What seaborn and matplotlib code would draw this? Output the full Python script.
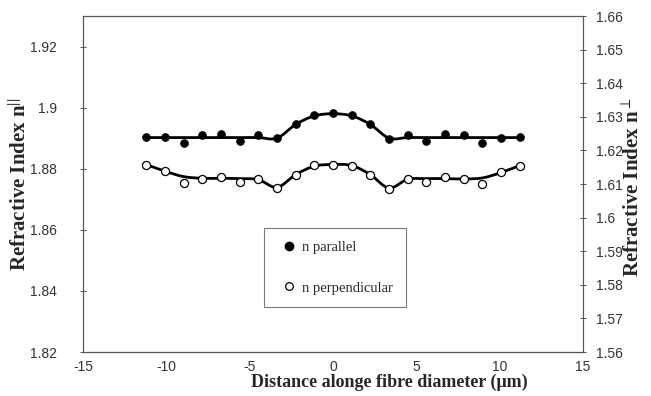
import numpy as np
import pandas as pd
import seaborn as sns
import matplotlib
matplotlib.use("Agg")
import matplotlib.pyplot as plt
from matplotlib.lines import Line2D
from matplotlib.path import Path
from matplotlib.patches import PathPatch

# ---------------- data ----------------
distance = [-11.2, -10.08, -8.96, -7.84, -6.72, -5.6, -4.48, -3.36, -2.24, -1.12, 0.0,
            1.12, 2.24, 3.36, 4.48, 5.6, 6.72, 7.84, 8.96, 10.08, 11.2]
n_parallel = [1.8903, 1.8903, 1.8885, 1.8910, 1.8915, 1.8891, 1.8912, 1.8899, 1.8947, 1.8976, 1.8982,
              1.8976, 1.8945, 1.8897, 1.8911, 1.8890, 1.8913, 1.8909, 1.8883, 1.8899, 1.8903]
n_perpendicular = [1.6158, 1.6139, 1.6102, 1.6116, 1.6121, 1.6105, 1.6116, 1.6087, 1.6128, 1.6156, 1.6158,
                   1.6155, 1.6128, 1.6086, 1.6116, 1.6105, 1.6121, 1.6116, 1.6100, 1.6137, 1.6155]
# smoothed trend curves
fit_parallel = [1.8902, 1.8902, 1.8902, 1.8902, 1.8902, 1.8902, 1.8902, 1.8900, 1.8945, 1.8973, 1.8980,
                1.8973, 1.8945, 1.8900, 1.8902, 1.8902, 1.8902, 1.8902, 1.8902, 1.8902, 1.8902]
fit_perpendicular = [1.6158, 1.6138, 1.6122, 1.6117, 1.6117, 1.6116, 1.6113, 1.6090, 1.6128, 1.6153, 1.6158,
                     1.6155, 1.6128, 1.6088, 1.6114, 1.6116, 1.6116, 1.6115, 1.6118, 1.6134, 1.6155]

left_ticks = [1.82, 1.84, 1.86, 1.88, 1.90, 1.92]
left_labels = ["1.82", "1.84", "1.86", "1.88", "1.9", "1.92"]
right_ticks = [1.56, 1.57, 1.58, 1.59, 1.60, 1.61, 1.62, 1.63, 1.64, 1.65, 1.66]
right_labels = ["1.56", "1.57", "1.58", "1.59", "1.6", "1.61", "1.62", "1.63", "1.64", "1.65", "1.66"]
x_ticks = [-15, -10, -5, 0, 5, 10, 15]

df = pd.DataFrame({"x": distance, "par": n_parallel, "perp": n_perpendicular})

# ---------------- style ----------------
sns.set_style("white")
plt.rcParams["font.family"] = ["Liberation Sans", "DejaVu Sans"]
plt.rcParams["mathtext.fontset"] = "custom"
plt.rcParams["mathtext.rm"] = "Liberation Serif:bold"
plt.rcParams["mathtext.it"] = "Liberation Serif:bold"
plt.rcParams["mathtext.bf"] = "Liberation Serif:bold"
SERIF = ["Liberation Serif", "DejaVu Serif"]
TICKC = "#333333"

fig = plt.figure(figsize=(6.51, 3.96), dpi=100)
ax = fig.add_axes([83 / 651, 1 - 352 / 396, 500 / 651, 336 / 396])
ax2 = ax.twinx()


def smooth_path(xs, ys, t=1 / 6):
    xs = np.asarray(xs, float)
    ys = np.asarray(ys, float)
    verts = [(xs[0], ys[0])]
    codes = [Path.MOVETO]
    n = len(xs)
    for i in range(n - 1):
        p0 = np.array([xs[max(i - 1, 0)], ys[max(i - 1, 0)]])
        p1 = np.array([xs[i], ys[i]])
        p2 = np.array([xs[i + 1], ys[i + 1]])
        p3 = np.array([xs[min(i + 2, n - 1)], ys[min(i + 2, n - 1)]])
        c1 = p1 + (p2 - p0) * t
        c2 = p2 - (p3 - p1) * t
        verts += [tuple(c1), tuple(c2), tuple(p2)]
        codes += [Path.CURVE4] * 3
    return Path(verts, codes)


ax.add_patch(PathPatch(smooth_path(distance, fit_parallel), facecolor="none",
                       edgecolor="black", lw=2.0, zorder=2))
ax2.add_patch(PathPatch(smooth_path(distance, fit_perpendicular), facecolor="none",
                        edgecolor="black", lw=2.0, zorder=2))

sns.scatterplot(data=df, x="x", y="par", ax=ax, marker="o", s=32, color="black",
                edgecolor="black", linewidth=0.5, zorder=3, legend=False)
sns.scatterplot(data=df, x="x", y="perp", ax=ax2, marker="o", s=34, facecolor="white",
                edgecolor="black", linewidth=0.9, zorder=3, legend=False)

ax.set_xlim(-15, 15)
ax.set_ylim(1.82, 1.93)
ax2.set_ylim(1.56, 1.66)

ax.set_xticks(x_ticks)
ax.set_xticklabels([str(v) for v in x_ticks])
ax.set_yticks(left_ticks)
ax.set_yticklabels(left_labels)
ax2.set_yticks(right_ticks)
ax2.set_yticklabels(right_labels)

for a in (ax, ax2):
    a.tick_params(axis="both", direction="inout", length=5, width=0.7, colors="#555555",
                  labelcolor=TICKC, labelsize=10)
    for s in a.spines.values():
        s.set_visible(True)
        s.set_linewidth(0.8)
        s.set_color("#555555")
ax.spines["bottom"].set_color("#222222")
ax.tick_params(axis="x", pad=3)
ax.tick_params(axis="y", pad=16)
ax2.tick_params(axis="y", pad=7)

ax.set_xlabel("Distance alonge fibre diameter (\u03bcm)", family=SERIF, fontweight="bold",
              fontsize=13)
ax.xaxis.set_label_coords((389 - 83) / 500, (352 - 382) / 336)
ax.xaxis.label.set_va("center")

ax.set_ylabel("Refractive Index n$^{||}$", family=SERIF, fontweight="bold", fontsize=15)
ax.yaxis.set_label_coords((20 - 83) / 500, 0.5)
ax.yaxis.label.set_va("center")

ax2.set_ylabel("Refractive Index n$^{\\perp}$", family=SERIF, fontweight="bold", fontsize=15,
               rotation=90)
ax2.yaxis.set_label_coords((634 - 83) / 500, 0.49)
ax2.yaxis.label.set_va("center")

handles = [
    Line2D([], [], marker="o", linestyle="none", markersize=6, markerfacecolor="black",
           markeredgecolor="black"),
    Line2D([], [], marker="o", linestyle="none", markersize=5.5, markerfacecolor="white",
           markeredgecolor="black", markeredgewidth=0.9),
]
leg = ax.legend(handles, ["n parallel", "n perpendicular"], loc="center",
                bbox_to_anchor=((335 - 83) / 500, (352 - 267.5) / 336),
                prop={"family": SERIF, "size": 10.5}, frameon=True, fancybox=False,
                handlelength=1.6, handletextpad=0.1, labelspacing=1.9, borderpad=0.87,
                borderaxespad=0)
leg.get_frame().set_edgecolor("#777777")
leg.get_frame().set_linewidth(0.8)
leg.get_frame().set_facecolor("white")
leg.get_frame().set_alpha(1)
leg.set_zorder(5)

fig.savefig("out.png", dpi=100, facecolor="white")
